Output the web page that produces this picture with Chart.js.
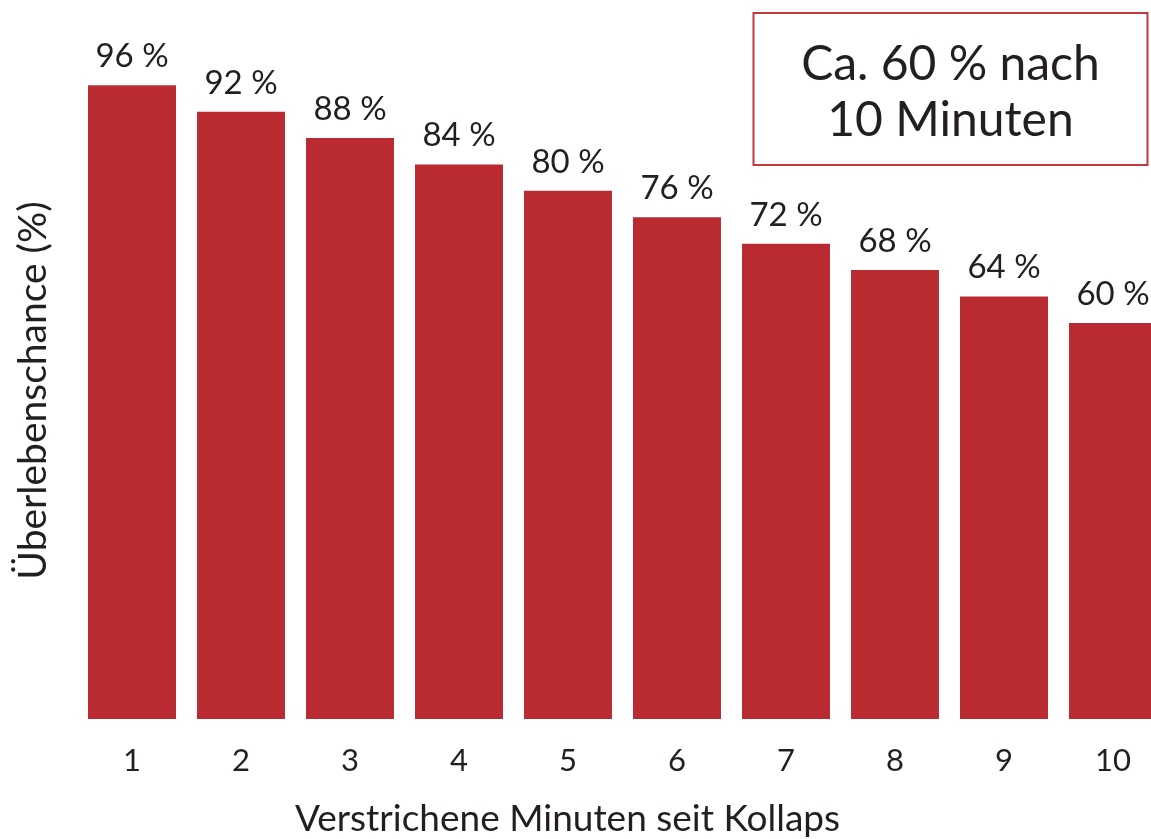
<!DOCTYPE html>
<html>
<head>
<meta charset="utf-8">
<script src="https://cdn.jsdelivr.net/npm/chart.js@4"></script>
<style>
    html, body { margin: 0; padding: 0; background: #fff; overflow: hidden; }
    #wrap { width: 1151px; height: 839px; overflow: hidden; }
    #wrap canvas { display: block; }
</style>
</head>
<body>
<div id="wrap">
    <canvas id="survivalChart" width="1170" height="839"></canvas>
</div>
<script>
const minutes = ['1', '2', '3', '4', '5', '6', '7', '8', '9', '10'];
const survival = [96, 92, 88, 84, 80, 76, 72, 68, 64, 60];
const noteLines = ['Ca. 60 % nach', '10 Minuten'];
const xTitle = 'Verstrichene Minuten seit Kollaps';
const yTitle = 'Überlebenschance (%)';

const barColor = '#b92b30';
const textColor = '#231f20';
const fontFamily = 'Lato, "Open Sans", sans-serif';

// values above each bar
const barLabels = {
    id: 'barLabels',
    afterDatasetsDraw(chart) {
        const ctx = chart.ctx;
        const meta = chart.getDatasetMeta(0);
        ctx.save();
        ctx.fillStyle = textColor;
        ctx.font = '33px ' + fontFamily;
        ctx.textAlign = 'center';
        ctx.textBaseline = 'alphabetic';
        meta.data.forEach((bar, i) => {
            ctx.fillText(survival[i] + ' %', bar.x, bar.y - 18);
        });
        ctx.restore();
    }
};

// axis titles, placed off-centre like in the original figure
const axisTitles = {
    id: 'axisTitles',
    afterDraw(chart) {
        const ctx = chart.ctx;
        const area = chart.chartArea;
        ctx.save();
        ctx.fillStyle = textColor;
        ctx.textAlign = 'center';
        ctx.textBaseline = 'middle';

        ctx.font = '37px ' + fontFamily;
        ctx.fillText(xTitle, (area.left + area.right) / 2 - 55, area.bottom + 100);

        ctx.font = '39px ' + fontFamily;
        ctx.translate(area.left - 44, (area.top + area.bottom) / 2 + 28);
        ctx.rotate(-Math.PI / 2);
        ctx.fillText(yTitle, 0, 0);
        ctx.restore();
    }
};

// boxed note in the upper right corner
const noteBox = {
    id: 'noteBox',
    afterDraw(chart) {
        const ctx = chart.ctx;
        const area = chart.chartArea;
        const w = 394, h = 152;
        const x = area.right - 20 - w;
        const y = area.top + 7;
        ctx.save();
        ctx.strokeStyle = '#c0393b';
        ctx.lineWidth = 2;
        ctx.strokeRect(x, y, w, h);
        ctx.fillStyle = textColor;
        ctx.font = '48px ' + fontFamily;
        ctx.textAlign = 'center';
        ctx.textBaseline = 'middle';
        noteLines.forEach((line, i) => {
            ctx.fillText(line, x + w / 2, y + 52 + i * 56);
        });
        ctx.restore();
    }
};

new Chart('survivalChart', {
    type: 'bar',
    data: {
        labels: minutes,
        datasets: [{
            data: survival,
            backgroundColor: barColor,
            borderWidth: 0,
            barPercentage: 0.807,
            categoryPercentage: 1
        }]
    },
    options: {
        responsive: false,
        animation: false,
        layout: { padding: { top: 6, right: 2.5, left: 77.5, bottom: 36 } },
        plugins: {
            legend: { display: false },
            tooltip: { enabled: false }
        },
        scales: {
            x: {
                grid: { display: false, drawTicks: false },
                border: { display: false },
                ticks: {
                    color: textColor,
                    font: { family: fontFamily, size: 31, lineHeight: 1.2 },
                    padding: 23.4,
                    maxRotation: 0
                }
            },
            y: {
                display: false,
                min: 0,
                max: 108
            }
        }
    },
    plugins: [barLabels, axisTitles, noteBox]
});
</script>
</body>
</html>
